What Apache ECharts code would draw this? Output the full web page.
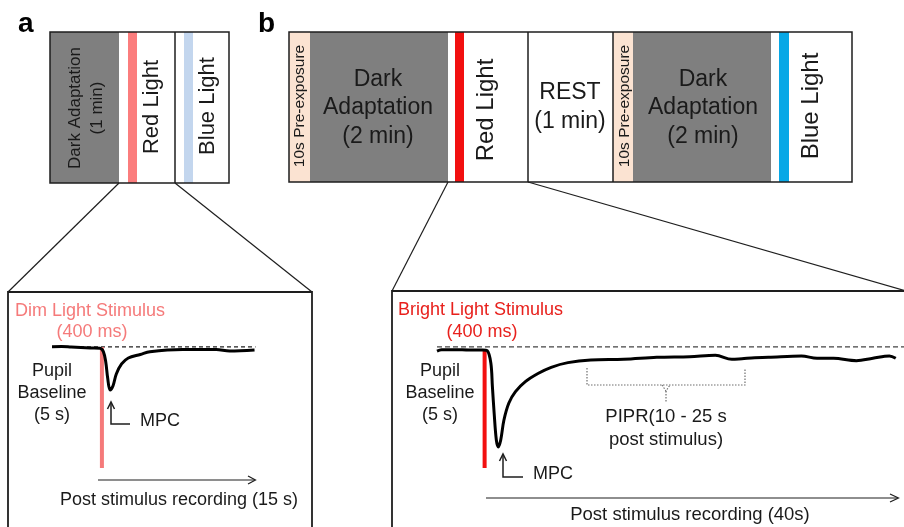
<!DOCTYPE html>
<html><head><meta charset="utf-8">
<script src="https://cdn.jsdelivr.net/npm/echarts@6/dist/echarts.min.js"></script>
<style>html,body{margin:0;padding:0;background:#fff}#c{width:904px;height:527px}</style>
</head><body><div id="c"></div>
<script>
// ---- data: time (s) relative to stimulus onset, normalised pupil size ----
const dimTime  = [-5,-4,-3,-2,-1,0,0.35,0.6,0.8,1.05,1.35,1.7,2.25,2.95,4.2,5.2,8.6,12.1,13.5,16.1];
const dimPupil = [1.002,1.003,1.0,0.997,0.994,0.992,0.972,0.91,0.814,0.742,0.766,0.838,0.898,0.934,0.955,0.972,0.985,0.985,0.976,0.982];

const brightTime  = [-5,-4.5,-3,-1.5,0,0.48,0.88,1.05,1.24,1.48,1.70,1.96,2.31,2.85,3.57,4.65,6.08,7.47,9.3,11.8,15.4,19.0,22.6,25.4,27.2,28.3,29.7,31.2,34.8,36.5,38.3,40.8,42.6,44.4,45.1];
const brightPupil = [0.975,0.983,0.984,0.982,0.982,0.978,0.904,0.762,0.604,0.442,0.400,0.442,0.562,0.664,0.732,0.792,0.842,0.878,0.906,0.922,0.926,0.938,0.942,0.950,0.926,0.930,0.936,0.938,0.946,0.932,0.932,0.918,0.932,0.946,0.932];

const baselineLevel = 1.0;
const stimTime = 0.2;            // centre of 400 ms stimulus
const stimDim = [1.0, 0.274];
const stimBright = [0.985, 0.274];

const FONT = '"Liberation Sans", Arial, Helvetica, sans-serif';
const TXT = '#1a1a1a';

function text(x, y, s, size, opts) {
  opts = opts || {};
  return {
    type: 'text', x: x, y: y, rotation: opts.rot || 0, z: 10,
    style: {
      text: s, fill: opts.fill || TXT, fontSize: size, fontFamily: FONT,
      fontWeight: opts.bold ? 'bold' : 'normal',
      align: opts.align || 'center', verticalAlign: 'middle',
      lineHeight: opts.lh || Math.round(size * 1.25)
    }
  };
}
function rect(x, y, w, h, fill) {
  return { type: 'rect', shape: { x: x, y: y, width: w, height: h }, style: { fill: fill }, z: 1 };
}
function frame(x, y, w, h, lw) {
  return { type: 'rect', shape: { x: x, y: y, width: w, height: h }, style: { fill: null, stroke: '#1e1e1e', lineWidth: lw || 1.5 }, z: 5 };
}
function line(x1, y1, x2, y2, lw, extra) {
  return Object.assign({ type: 'line', shape: { x1: x1, y1: y1, x2: x2, y2: y2 }, style: Object.assign({ stroke: '#1e1e1e', lineWidth: lw || 1.2 }, (extra || {})), z: 5 });
}
function poly(pts, lw, extra) {
  return { type: 'polyline', shape: { points: pts }, style: Object.assign({ stroke: '#1e1e1e', lineWidth: lw || 1.5, fill: null }, (extra || {})), z: 6 };
}

const R = Math.PI / 2;
const graphics = [
  // panel labels
  text(18, 24, 'a', 28, { bold: true, align: 'left', fill: '#000' }),
  text(258, 24, 'b', 28, { bold: true, align: 'left', fill: '#000' }),

  // ---- panel a timeline ----
  rect(50, 32, 69, 151, '#7f7f7f'),
  rect(128, 32, 9, 151, '#fb7d7d'),
  rect(184, 32, 9, 151, '#c3d6ee'),
  frame(50, 32, 179, 151),
  line(175, 32, 175, 183, 1.5),
  text(86, 108, 'Dark Adaptation\n(1 min)', 17, { rot: R, lh: 22 }),
  text(152, 107, 'Red Light', 22, { rot: R }),
  text(208, 106, 'Blue Light', 22, { rot: R }),

  // ---- panel b timeline ----
  rect(289, 32, 21, 150, '#fbe3d2'),
  rect(310, 32, 138, 150, '#7f7f7f'),
  rect(455, 32, 9, 150, '#f21010'),
  rect(613, 32, 20, 150, '#fbe3d2'),
  rect(633, 32, 138, 150, '#7f7f7f'),
  rect(779, 32, 10, 150, '#08a8e6'),
  frame(289, 32, 563, 150),
  line(528, 32, 528, 182, 1.5),
  line(613, 32, 613, 182, 1.5),
  text(300, 106, '10s Pre-exposure', 15.5, { rot: R }),
  text(625, 106, '10s Pre-exposure', 15.5, { rot: R }),
  text(378, 108, 'Dark\nAdaptation\n(2 min)', 23, { lh: 28.5 }),
  text(703, 108, 'Dark\nAdaptation\n(2 min)', 23, { lh: 28.5 }),
  text(486, 110, 'Red Light', 24, { rot: R }),
  text(570, 107, 'REST\n(1 min)', 23, { lh: 28.5 }),
  text(811, 106, 'Blue Light', 24, { rot: R }),

  // connectors
  line(119, 183, 8, 292, 1.2),
  line(175, 183, 312, 292, 1.2),
  line(448, 182, 392, 291, 1.2),
  line(528, 182, 906, 291, 1.2),

  // bottom boxes
  frame(8, 292, 304, 260, 1.8),
  frame(392, 291, 514, 260, 1.8),

  // ---- bottom-left annotations ----
  text(15, 311, 'Dim Light Stimulus', 18, { align: 'left', fill: '#f57a7a' }),
  text(92, 332, '(400 ms)', 18, { fill: '#f57a7a' }),
  text(52, 393, 'Pupil\nBaseline\n(5 s)', 18, { lh: 22 }),
  poly([[111, 403], [111, 424], [130, 424]], 1.5),
  poly([[107.5, 409], [111, 402], [114.5, 409]], 1.5),
  text(140, 421, 'MPC', 18, { align: 'left' }),
  line(98, 480, 255, 480, 1.2),
  poly([[248, 476], [255.5, 480], [248, 484]], 1.2),
  text(179, 500, 'Post stimulus recording (15 s)', 18),

  // ---- bottom-right annotations ----
  text(398, 310, 'Bright Light Stimulus', 18, { align: 'left', fill: '#e8201c' }),
  text(482, 332, '(400 ms)', 18, { fill: '#e8201c' }),
  text(440, 393, 'Pupil\nBaseline\n(5 s)', 18, { lh: 22 }),
  poly([[503, 455], [503, 477], [523, 477]], 1.5),
  poly([[499.5, 461], [503, 454], [506.5, 461]], 1.5),
  text(533, 474, 'MPC', 18, { align: 'left' }),
  poly([[587, 368], [587, 385], [745, 385], [745, 368]], 1.2, { stroke: '#6e6e6e', lineDash: [1.5, 1.5] }),
  poly([[662, 385], [666, 391], [670, 385]], 1.2, { stroke: '#6e6e6e', lineDash: [1.5, 1.5] }),
  line(666, 391, 666, 403, 1.2, { stroke: '#6e6e6e', lineDash: [1.5, 1.5] }),
  text(666, 417, 'PIPR(10 - 25 s', 18.5),
  text(666, 440, 'post stimulus)', 18.5),
  line(486, 498, 898, 498, 1.2),
  poly([[890, 494], [898.5, 498], [890, 502]], 1.2),
  text(690, 515, 'Post stimulus recording (40s)', 18.5)
];

const hiddenX = (min, max, gi) => ({ type: 'value', gridIndex: gi, min: min, max: max, show: false });
const hiddenY = (gi) => ({ type: 'value', gridIndex: gi, min: 0.25, max: 1.1, show: false });

const option = {
  animation: false,
  backgroundColor: '#fff',
  grid: [
    { left: 52, top: 330.3, width: 203.5, height: 141.7 },
    { left: 437, top: 330.3, width: 474.3, height: 141.7 }
  ],
  xAxis: [hiddenX(-5, 16.2, 0), hiddenX(-5, 46, 1)],
  yAxis: [hiddenY(0), hiddenY(1)],
  series: [
    { type: 'line', xAxisIndex: 0, yAxisIndex: 0, symbol: 'none', silent: true,
      data: [[-5, baselineLevel], [16.2, baselineLevel]],
      lineStyle: { color: '#222', width: 1.2, type: [4, 3] }, z: 2 },
    { type: 'line', xAxisIndex: 0, yAxisIndex: 0, symbol: 'none', silent: true,
      data: [[stimTime, stimDim[0]], [stimTime, stimDim[1]]],
      lineStyle: { color: '#f57a7a', width: 4, cap: 'butt' }, z: 3 },
    { type: 'line', xAxisIndex: 0, yAxisIndex: 0, symbol: 'none', silent: true, smooth: 0.35,
      data: dimTime.map((t, i) => [t, dimPupil[i]]),
      lineStyle: { color: '#000', width: 3 }, z: 4 },

    { type: 'line', xAxisIndex: 1, yAxisIndex: 1, symbol: 'none', silent: true,
      data: [[-5, baselineLevel], [46, baselineLevel]],
      lineStyle: { color: '#444', width: 1.2, type: [5, 3] }, z: 2 },
    { type: 'line', xAxisIndex: 1, yAxisIndex: 1, symbol: 'none', silent: true,
      data: [[stimTime, stimBright[0]], [stimTime, stimBright[1]]],
      lineStyle: { color: '#f21010', width: 4, cap: 'butt' }, z: 3 },
    { type: 'line', xAxisIndex: 1, yAxisIndex: 1, symbol: 'none', silent: true, smooth: 0.35,
      data: brightTime.map((t, i) => [t, brightPupil[i]]),
      lineStyle: { color: '#000', width: 3 }, z: 4 }
  ],
  graphic: { elements: graphics }
};

const chart = echarts.init(document.getElementById('c'), null, { renderer: 'canvas' });
chart.setOption(option);
</script>
</body></html>
